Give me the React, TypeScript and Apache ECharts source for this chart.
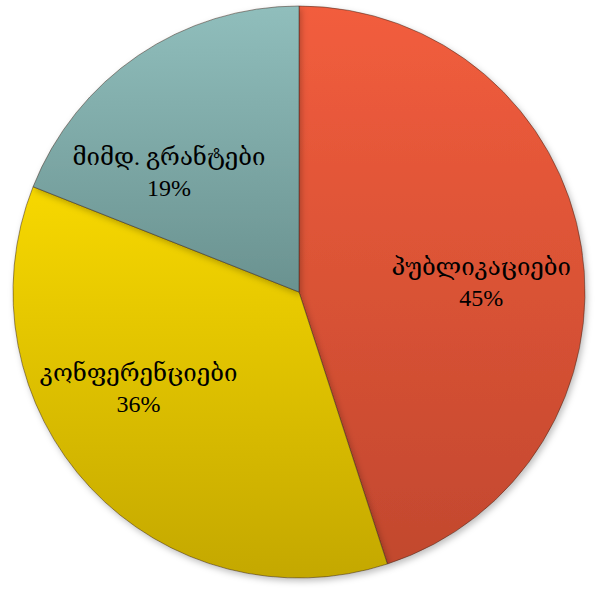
import React, { useEffect, useRef } from "react";
import * as echarts from "echarts";

const categories = ["პუბლიკაციები", "კონფერენციები", "მიმდ. გრანტები"];
const values = [45, 36, 19];
const topColors = ["#F25D3D", "#F7D800", "#90BEBC"];
const bottomColors = ["#C2482E", "#C4A800", "#6A9290"];
const labelOffsets = [
  [38, 13],
  [-54, -3],
  [-48, 1],
];

export default function App() {
  const ref = useRef<HTMLDivElement>(null);
  useEffect(() => {
    if (!ref.current) return;
    const chart = echarts.init(ref.current, undefined, { renderer: "svg" });
    const data = categories.map((name, i) => ({
      name,
      value: values[i],
      itemStyle: {
        color: new echarts.graphic.LinearGradient(0, 0, 0, 1, [
          { offset: 0, color: topColors[i] },
          { offset: 1, color: bottomColors[i] },
        ]),
      },
      label: { offset: labelOffsets[i] },
    }));
    chart.setOption({
      animation: false,
      backgroundColor: "#ffffff",
      series: [
        {
          type: "pie",
          center: [299, 292],
          radius: [0, 286],
          startAngle: 90,
          clockwise: true,
          data,
          itemStyle: {
            borderColor: "rgba(60,40,30,0.5)",
            borderWidth: 1,
            shadowBlur: 6,
            shadowOffsetX: 2,
            shadowOffsetY: 3,
            shadowColor: "rgba(0,0,0,0.25)",
          },
          label: {
            show: true,
            position: "inside",
            formatter: (p: any) => `${p.name}\n${p.percent}%`,
            color: "#000000",
            fontSize: 24,
            lineHeight: 31,
            fontFamily: "'Liberation Serif', 'DejaVu Serif', serif",
            align: "center",
          },
          labelLine: { show: false },
          emphasis: { disabled: true },
        },
      ],
    });
    return () => chart.dispose();
  }, []);
  return (
    <div
      ref={ref}
      style={{ position: "absolute", left: 0, top: 0, width: 597, height: 589 }}
    />
  );
}
